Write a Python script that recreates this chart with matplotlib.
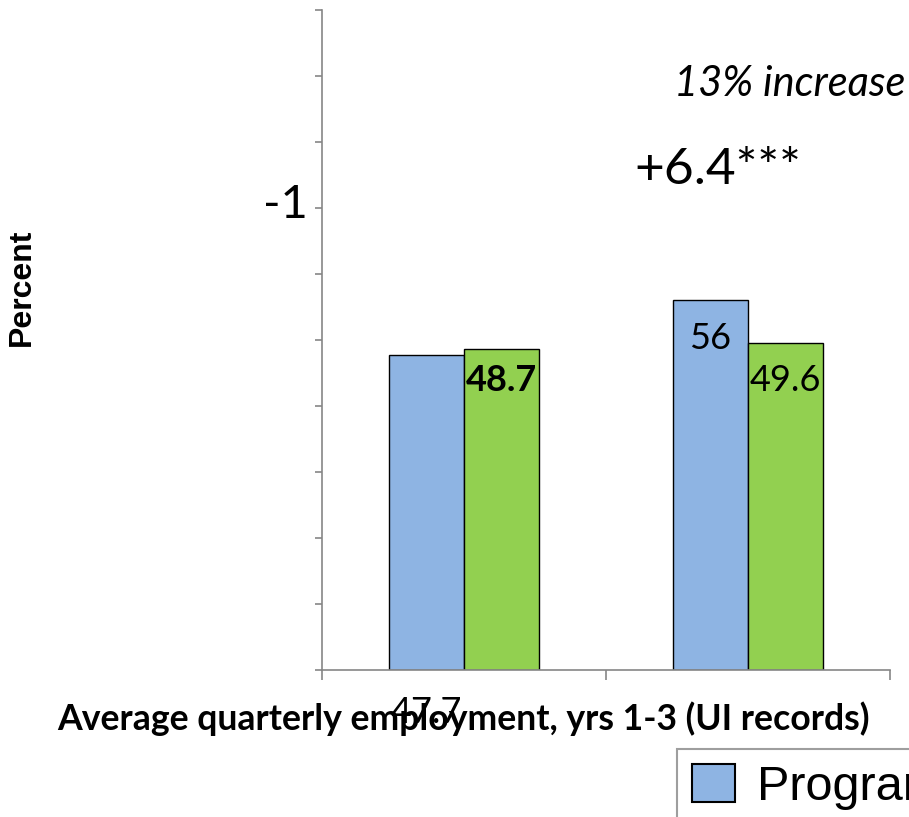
import matplotlib
matplotlib.use("Agg")
import matplotlib.pyplot as plt
from matplotlib import font_manager
from matplotlib.patches import Patch

names = {f.name for f in font_manager.fontManager.ttflist}
CAL = 'Lato'
ARIAL = 'Liberation Sans'

categories = ["Average quarterly employment, yrs 1-3 (UI records)", ""]
program = [47.7, 56.0]
control = [48.7, 49.6]
series_names = ["Program", "Control"]
yticks = list(range(0, 101, 10))

BLUE = "#8EB4E3"
GREEN = "#92D050"
GRAY = "#868686"

fig = plt.figure(figsize=(9.09, 8.17), dpi=100)
ax = fig.add_axes([322/909, 1-670/817, (890-322)/909, (670-10)/817])

x = list(range(len(categories)))
w = 0.264
ax.bar([i - w/2 for i in x], program, width=w, color=BLUE, edgecolor="black", linewidth=1.0)
ax.bar([i + w/2 for i in x], control, width=w, color=GREEN, edgecolor="black", linewidth=1.0)

ax.set_xlim(-0.5, 1.5)
ax.set_ylim(0, 100)
ax.set_yticks(yticks)
ax.set_yticklabels([])
ax.set_xticks([-0.5, 0.5, 1.5])
ax.set_xticklabels([])
ax.tick_params(axis='y', direction='out', length=5, width=1.2, color=GRAY)
ax.tick_params(axis='x', direction='out', length=7, width=1.2, color=GRAY)
for s in ['top', 'right']:
    ax.spines[s].set_visible(False)
for s in ['left', 'bottom']:
    ax.spines[s].set_color(GRAY)
    ax.spines[s].set_linewidth(1.2)

def fmt(v):
    return f"{v:g}"

VS = 26
ax.text(x[0] + w/2, control[0] - 4.9, fmt(control[0]), ha='center', va='center',
        fontsize=VS, fontweight='bold', family=CAL)
ax.text(x[1] - w/2, program[1] - 5.7, fmt(program[1]), ha='center', va='center',
        fontsize=VS, family=CAL)
ax.text(x[1] + w/2, control[1] - 5.8, fmt(control[1]), ha='center', va='center',
        fontsize=VS, family=CAL)
ax.text(x[0] - w/2, -6.4, fmt(program[0]), ha='center', va='center',
        fontsize=VS, family=CAL, clip_on=False)

ax.text(x[0], -7.4, categories[0], ha='center', va='center', fontsize=25.7,
        fontweight='bold', family=CAL, clip_on=False)

ax.text(-0.63, 70.5, "-1", ha='center', va='center', fontsize=34, family=CAL, clip_on=False)
ax.text(0.894, 75.8, "+6.4***", ha='center', va='center', fontsize=37, family=CAL, clip_on=False)
ax.text(1.148, 88.8, "13% increase", ha='center', va='center', fontsize=30,
        style='italic', family=CAL, clip_on=False)

fig.text(22/909, 1-287/817, "Percent", rotation=90, ha='center', va='center',
         fontsize=23, fontweight='bold', family=ARIAL)

handles = [Patch(facecolor=BLUE, edgecolor='black', linewidth=1.5),
           Patch(facecolor=GREEN, edgecolor='black', linewidth=1.5)]
leg = fig.legend(handles, series_names, loc='upper left', bbox_to_anchor=(677/909, 1-749/817),
                 ncol=2, frameon=True, fancybox=False,
                 prop={'family': ARIAL, 'size': 35},
                 handlelength=0.9, handleheight=0.85, handletextpad=0.45,
                 borderpad=0.3, borderaxespad=0.0)
leg.get_frame().set_edgecolor(GRAY)
leg.get_frame().set_linewidth(1.5)

fig.savefig("out.png", dpi=100)
